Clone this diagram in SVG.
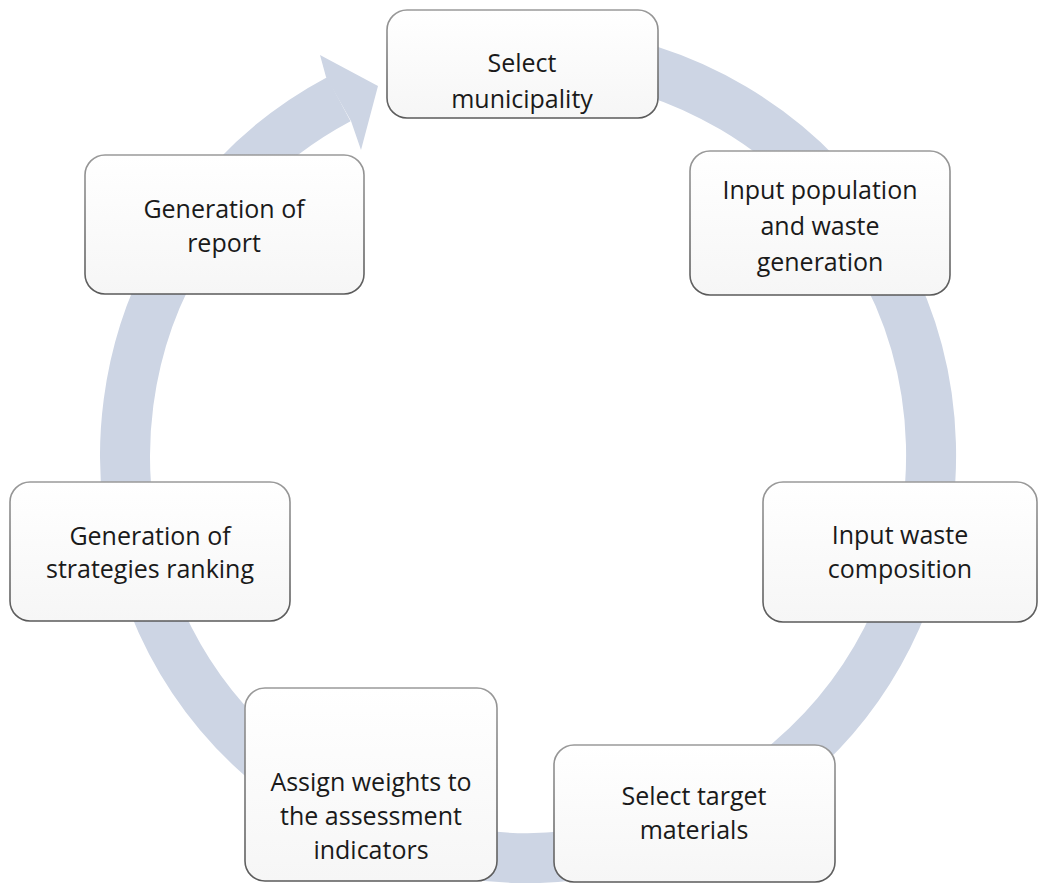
<svg xmlns="http://www.w3.org/2000/svg" width="1038" height="883" viewBox="0 0 1038 883">
<defs>
<linearGradient id="boxFill" x1="0" y1="0" x2="0" y2="1">
<stop offset="0" stop-color="#ffffff"/>
<stop offset="1" stop-color="#f6f6f6"/>
</linearGradient>
<linearGradient id="boxStroke" x1="0" y1="0" x2="0" y2="1">
<stop offset="0" stop-color="#9a9a9a"/>
<stop offset="1" stop-color="#5a5a5a"/>
</linearGradient>
</defs>
<style>
.ring{fill:none;stroke:#CDD5E4;stroke-width:50}
.head{fill:#CDD5E4}
.box{fill:url(#boxFill);stroke:url(#boxStroke);stroke-width:1.6}
.lbl{font-family:"Open Sans","Liberation Sans",sans-serif;font-size:25px;fill:#1a1a1a;text-anchor:middle}
</style>
<rect width="1038" height="883" fill="#ffffff"/>
<g id="connectors">
<path class="ring" d="M 563.1 53.5 A 403 403 0 1 1 338.8 99.2"/>
<polygon class="head" points="326,77 320,55 378,86 361,150 351,121"/>
</g>
<g id="node-select-municipality">
<rect class="box" x="387" y="10" width="271" height="108" rx="20"/>
<text class="lbl" x="522" y="72">Select</text>
<text class="lbl" x="522" y="108">municipality</text>
</g>
<g id="node-input-population">
<rect class="box" x="690" y="151" width="260" height="144" rx="20"/>
<text class="lbl" x="820" y="199">Input population</text>
<text class="lbl" x="820" y="235">and waste</text>
<text class="lbl" x="820" y="271">generation</text>
</g>
<g id="node-input-composition">
<rect class="box" x="763" y="482" width="274" height="140" rx="20"/>
<text class="lbl" x="900" y="544">Input waste</text>
<text class="lbl" x="900" y="578">composition</text>
</g>
<g id="node-select-target">
<rect class="box" x="554" y="745" width="281" height="137" rx="20"/>
<text class="lbl" x="694" y="805">Select target</text>
<text class="lbl" x="694" y="839">materials</text>
</g>
<g id="node-assign-weights">
<rect class="box" x="245" y="688" width="252" height="193" rx="20"/>
<text class="lbl" x="371" y="791">Assign weights to</text>
<text class="lbl" x="371" y="825">the assessment</text>
<text class="lbl" x="371" y="859">indicators</text>
</g>
<g id="node-strategies-ranking">
<rect class="box" x="10" y="482" width="280" height="139" rx="20"/>
<text class="lbl" x="150" y="545">Generation of</text>
<text class="lbl" x="150" y="578">strategies ranking</text>
</g>
<g id="node-generation-report">
<rect class="box" x="85" y="155" width="279" height="139" rx="20"/>
<text class="lbl" x="224" y="218">Generation of</text>
<text class="lbl" x="224" y="252">report</text>
</g>
</svg>
